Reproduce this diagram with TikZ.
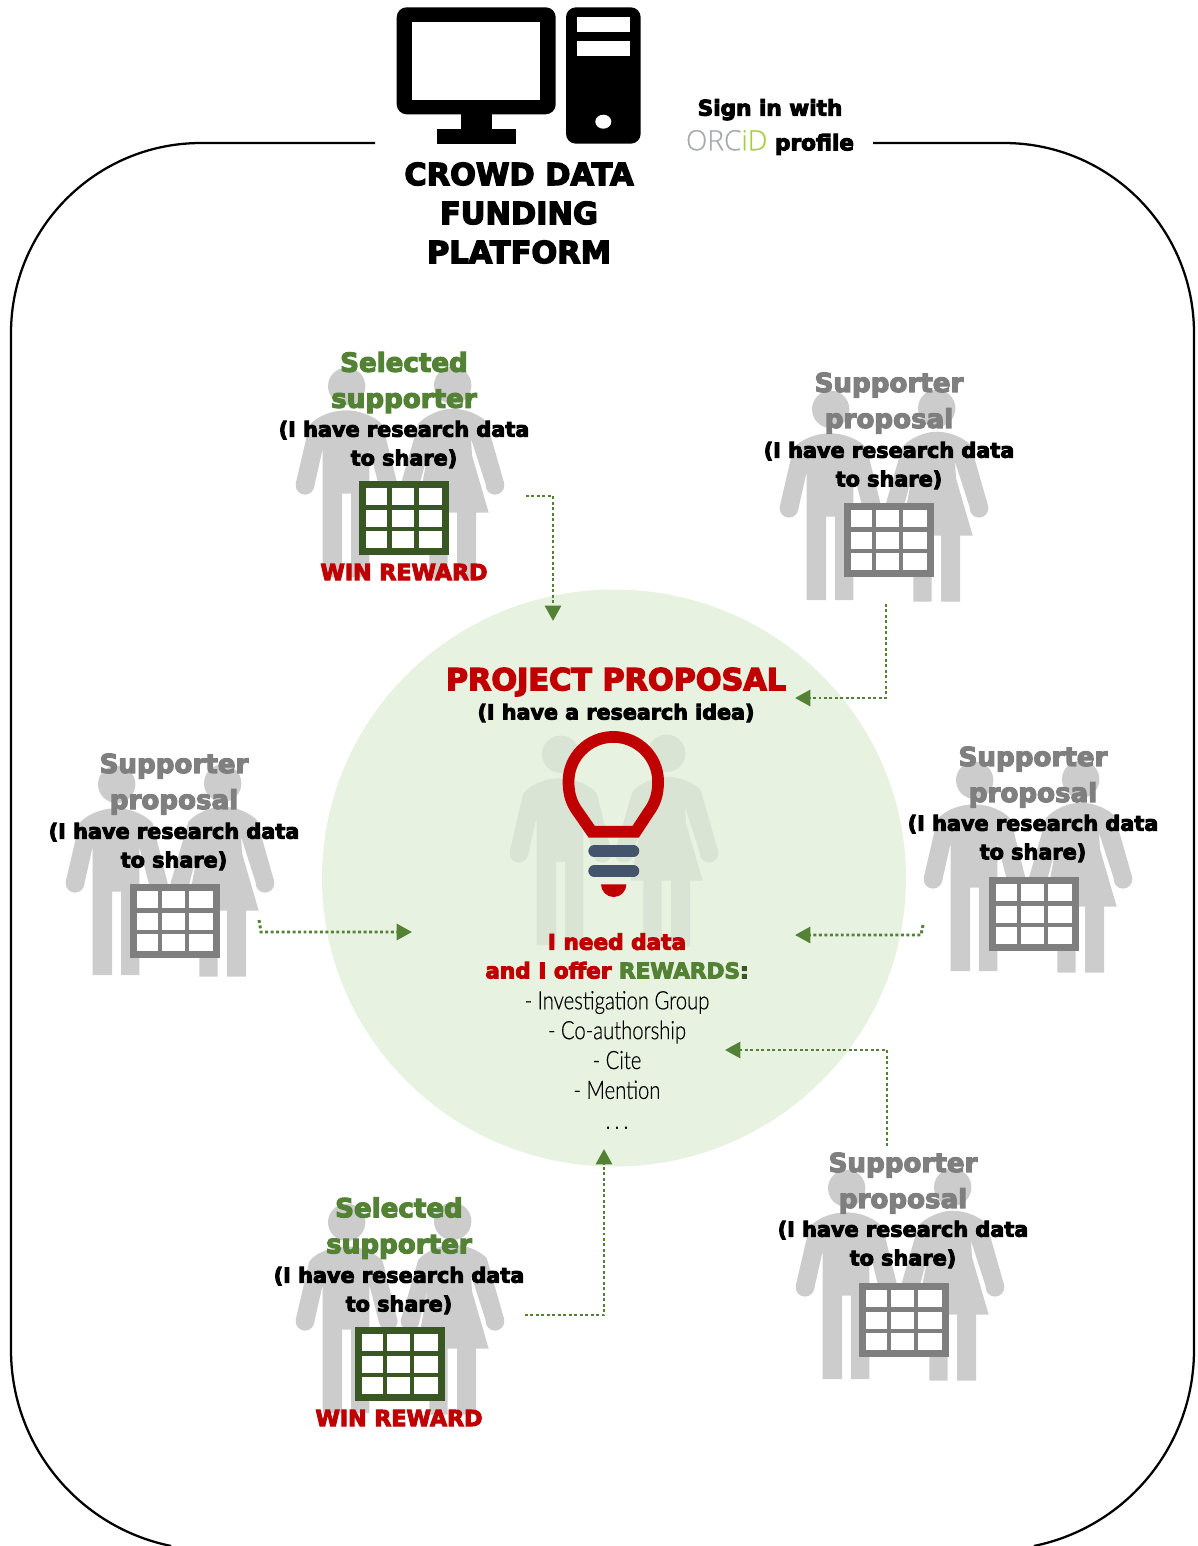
\documentclass[tikz,border=0pt]{standalone}
\usepackage{fontspec}
\usetikzlibrary{arrows.meta}
\newfontfamily\heavyfont{DejaVu Sans}[UprightFont={* Bold},FakeBold=4.5]
\newfontfamily\lightfont{Lato Light}[FakeStretch=0.8,FakeBold=0.3]
\newfontfamily\orcidfont{Open Sans Light}[FakeBold=0.5]
\definecolor{figgray}{HTML}{CCCCCC}
\definecolor{figpale}{HTML}{D9E4D5}
\definecolor{textgray}{HTML}{7F7F7F}
\definecolor{gridgreen}{HTML}{385723}
\definecolor{linkgreen}{HTML}{548235}
\definecolor{rewardred}{HTML}{C00000}
\definecolor{paleround}{HTML}{E8F2E1}
\definecolor{bulbbase}{HTML}{44546A}
\definecolor{orcidgray}{HTML}{A7A9AC}
\definecolor{orcidgreen}{HTML}{A6CE39}
\tikzset{
  platform/.style={font=\heavyfont\fontsize{22.8}{29.25}\selectfont,align=center},
  signin/.style={font=\heavyfont\fontsize{16.2}{26}\selectfont,align=center},
  role/.style={font=\heavyfont\fontsize{19.6}{27}\selectfont,align=center},
  share/.style={font=\heavyfont\fontsize{15.6}{21.5}\selectfont,align=center},
  reward/.style={font=\heavyfont\fontsize{16.6}{20}\selectfont,text=rewardred},
  rewards/.style={font=\lightfont\fontsize{19}{22.4}\selectfont,align=center},
  link/.style={color=linkgreen,line width=2.2pt,dash pattern=on 2.2pt off 1.9pt,-{Triangle[length=11.5pt,width=12pt,fill=linkgreen]}},
  pics/couple/.style={code={
    \fill[#1] (50.7,19.3) circle (18.7);
    \fill[#1] (156.7,18.3) circle (18.7);
    \fill[#1] (9,118.3) circle (9.3);
    \fill[#1] (92.3,118.3) circle (9.3);
    \fill[#1] (114,118.3) circle (9.3);
    \fill[#1] (199,118.3) circle (9.3);
    \fill[#1] (26.7,210) -- (26.7,81.7) -- (18,120.5) -- (-0.3,116.7) -- (13.3,58.3) .. controls (20,50) and (35,43.3) .. (50,43.3) .. controls (65,43.3) and (80,50) .. (86.7,58.3) -- (101.3,116.7) -- (83.3,120.5) -- (73.3,81.7) -- (73.3,210) -- (55,210) -- (55,126.7) -- (46,126.7) -- (46,210) -- cycle;
    \fill[#1] (105,116.7) -- (122.3,56.7) .. controls (130,48) and (145,41.7) .. (156.7,41.7) .. controls (170,41.7) and (184,48) .. (190.7,55) -- (208.3,116.7) -- (190.7,120.5) -- (175,71.7) -- (176,88.3) -- (192.7,145.7) -- (180,145.7) -- (180,211.7) -- (161,211.7) -- (161,145.7) -- (151.7,145.7) -- (151.7,211.7) -- (133.3,211.7) -- (133.3,145.7) -- (120.7,145.7) -- (132.3,85) -- (122.7,120.5) -- cycle;
  }},
  pics/datagrid/.style={code={
    \draw[#1,fill=white,line width=5.2pt] (3.5,3.7) rectangle (86.5,70.8);
    \draw[#1,line width=3.4pt] (30.2,3.7) -- (30.2,70.8);
    \draw[#1,line width=3.4pt] (57.2,3.7) -- (57.2,70.8);
    \draw[#1,line width=3.4pt] (3.5,26.6) -- (86.5,26.6);
    \draw[#1,line width=3.4pt] (3.5,48.1) -- (86.5,48.1);
  }},
}
\begin{document}
\begin{tikzpicture}[x=0.75pt,y=0.75pt,yscale=-1,xscale=1]
\useasboundingbox (0,0) rectangle (1197,1546);

%Rounded frame, open at the top and running off the page
\draw[line width=1.7pt] (375,143) -- (201,143) arc[start angle=270,end angle=180,radius=190] -- (11,1350) arc[start angle=180,end angle=101.5,radius=200];
\draw[line width=1.7pt] (873,143) -- (1004,143) arc[start angle=270,end angle=360,radius=190] -- (1194,1350) arc[start angle=0,end angle=78.5,radius=200];

%Computer
\fill[rounded corners=7.5pt] (396.7,7.3) rectangle (555.7,114.3);
\fill[white] (412.3,22) rectangle (540,99.7);
\fill (460.7,114) rectangle (492.3,129.5);
\fill (436.7,129) rectangle (516,143.7);
\fill[rounded corners=7.5pt] (566,7.3) rectangle (640.7,143.7);
\fill[white] (576.7,16.7) rectangle (630,31.7);
\fill[white] (576.7,41) rectangle (630,55.7);
\fill[white] (603.3,121.7) ellipse [x radius=8,y radius=7];

%Central circle
\fill[paleround] (614,878) ellipse [x radius=292,y radius=288.5];

%People
\pic[yscale=-1] at (296,367) {couple=figgray};
\pic[yscale=-1] at (780,390) {couple=figgray};
\pic[yscale=-1] at (66,765) {couple=figgray};
\pic[yscale=-1] at (924,761) {couple=figgray};
\pic[yscale=-1] at (796,1169) {couple=figgray};
\pic[yscale=-1] at (296,1203) {couple=figgray};
\pic[yscale=-1] at (510,735) {couple=figpale};

%Data tables
\pic[yscale=-1] at (359.3,480.7) {datagrid=gridgreen};
\pic[yscale=-1] at (844,503) {datagrid=textgray};
\pic[yscale=-1] at (130,884) {datagrid=textgray};
\pic[yscale=-1] at (989,877) {datagrid=textgray};
\pic[yscale=-1] at (859,1283) {datagrid=textgray};
\pic[yscale=-1] at (355,1327) {datagrid=gridgreen};

%Light bulb
\draw[rewardred,line width=8.8pt,miter limit=2] (591.7,831.7) -- (578,812) .. controls (572,804) and (568.5,795) .. (568.5,781.7) arc[start angle=180,end angle=360,radius=44.8] .. controls (658.1,795) and (654.6,804) .. (648.6,812) -- (635.7,831.7) -- cycle;
\draw[bulbbase,line width=8.8pt,line cap=round] (594.2,851) -- (633.4,851);
\draw[bulbbase,line width=8.8pt,line cap=round] (594.2,871) -- (633.4,871);
\fill[rewardred] (601,884.3) arc[start angle=180,end angle=0,radius=12.7] -- cycle;

% Text Node
\node[platform] (platform name) at (519,213) {CROWD DATA\\FUNDING\\PLATFORM};
\node[signin] (orcid signin) at (770,127) {Sign in with\\{\orcidfont\fontsize{21}{26}\selectfont\textcolor{orcidgray}{ORC}\textcolor{orcidgreen}{iD}} profile};
% Text Node
\node[role,text=linkgreen] (upper role) at (404,382.5) {Selected\\supporter};
\node[share] (upper share) at (404,444.5) {(I have research data\\to share)};
\node[reward] (upper reward) at (404,572) {WIN REWARD};
% Text Node
\node[role,text=textgray] (north role) at (889,403) {Supporter\\proposal};
\node[share] (north share) at (889,465.5) {(I have research data\\to share)};
% Text Node
\node[role,text=textgray] (west role) at (174,784) {Supporter\\proposal};
\node[share] (west share) at (174,846.5) {(I have research data\\to share)};
% Text Node
\node[role,text=textgray] (east role) at (1033,777) {Supporter\\proposal};
\node[share] (east share) at (1033,838.5) {(I have research data\\to share)};
% Text Node
\node[role,text=textgray] (south role) at (903,1183) {Supporter\\proposal};
\node[share] (south share) at (903,1244.5) {(I have research data\\to share)};
% Text Node
\node[role,text=linkgreen] (lower role) at (399,1228) {Selected\\supporter};
\node[share] (lower share) at (399,1290.5) {(I have research data\\to share)};
\node[reward] (lower reward) at (399,1418) {WIN REWARD};
% Text Node
\node[font=\heavyfont\fontsize{22.7}{30}\selectfont,text=rewardred] (project title) at (616,682) {PROJECT PROPOSAL};
\node[share,font=\heavyfont\fontsize{15.5}{21.5}\selectfont] (project idea) at (616,713) {(I have a research idea)};
\node[share,font=\heavyfont\fontsize{16.2}{21.5}\selectfont,text=rewardred] (project offer) at (617,956) {I need data\\and I offer \textcolor{linkgreen}{REWARDS}\textcolor{gridgreen}{:}};
\node[rewards] (reward list) at (617,1060) {- Investigation Group\\- Co-authorship\\- Cite\\- Mention\\.\,.\,.};

%Connectors
\coordinate (upper out) at (526,496);
\coordinate (upper in) at (553,621);
\coordinate (north out) at (886,604);
\coordinate (north in) at (795,698);
\coordinate (west out) at (259,920);
\coordinate (west bend) at (261,932);
\coordinate (west in) at (412,932);
\coordinate (east out) at (923,925);
\coordinate (east bend) at (921,935);
\coordinate (east in) at (795,935);
\coordinate (south out) at (887,1146);
\coordinate (south in) at (725,1050);
\coordinate (lower out) at (525,1315);
\coordinate (lower in) at (604,1149);
\draw[link] (upper out) -| (upper in);
\draw[link] (north out) |- (north in);
\draw[link] (west out) -- (west bend) -- (west in);
\draw[link] (east out) -- (east bend) -- (east in);
\draw[link] (south out) |- (south in);
\draw[link] (lower out) -| (lower in);

\end{tikzpicture}
\end{document}
